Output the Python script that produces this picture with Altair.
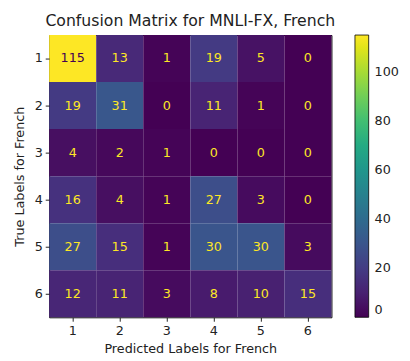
import altair as alt
import pandas as pd

true_labels = ["1", "2", "3", "4", "5", "6"]
pred_labels = ["1", "2", "3", "4", "5", "6"]
matrix = [
    [115, 13, 1, 19, 5, 0],
    [19, 31, 0, 11, 1, 0],
    [4, 2, 1, 0, 0, 0],
    [16, 4, 1, 27, 3, 0],
    [27, 15, 1, 30, 30, 3],
    [12, 11, 3, 8, 10, 15],
]
legend_ticks = [0, 20, 40, 60, 80, 100]

rows = []
for i, t in enumerate(true_labels):
    for j, p in enumerate(pred_labels):
        rows.append({"true": t, "pred": p, "value": matrix[i][j]})
df = pd.DataFrame(rows)

vmax = max(max(r) for r in matrix)
FONT = "DejaVu Sans"
W = 288

base = alt.Chart(df).encode(
    x=alt.X("pred:O", sort=pred_labels, title="Predicted Labels for French",
            axis=alt.Axis(labelAngle=0, tickSize=4, labelPadding=4, titlePadding=5)),
    y=alt.Y("true:O", sort=true_labels, title="True Labels for French",
            axis=alt.Axis(tickSize=4, labelPadding=3, titlePadding=8)),
)

heat = base.mark_rect(strokeWidth=0).encode(
    color=alt.Color("value:Q",
                    scale=alt.Scale(scheme="viridis", domain=[0, vmax]),
                    title=None,
                    legend=alt.Legend(orient="none", legendX=312, legendY=0,
                                      direction="vertical",
                                      gradientLength=W, gradientThickness=14,
                                      gradientStrokeColor="black", gradientStrokeWidth=0.8,
                                      values=legend_ticks, labelFontSize=13,
                                      labelFont=FONT, labelColor="#222",
                                      labelOffset=6)),
)

text = base.mark_text(fontSize=13, font=FONT).encode(
    text="value:Q",
    color=alt.condition(alt.datum.value > vmax / 2, alt.value("#440154"), alt.value("#fde725")),
)

chart = (heat + text).properties(
    width=W, height=W,
    title=alt.TitleParams("Confusion Matrix for MNLI-FX, French", fontSize=16,
                          font=FONT, fontWeight="normal", color="#222", offset=6),
    autosize=alt.AutoSizeParams(type="none"),
    padding={"left": 42, "top": 24, "right": 72, "bottom": 41},
).configure_axis(
    labelFont=FONT, titleFont=FONT, labelFontSize=13, titleFontSize=13,
    labelColor="#222", titleColor="#222", titleFontWeight="normal",
    domain=False, grid=False, tickColor="#222",
).configure_view(stroke="black", strokeWidth=1)

chart.save("out.html", embed_options={"renderer": "svg", "actions": False})
